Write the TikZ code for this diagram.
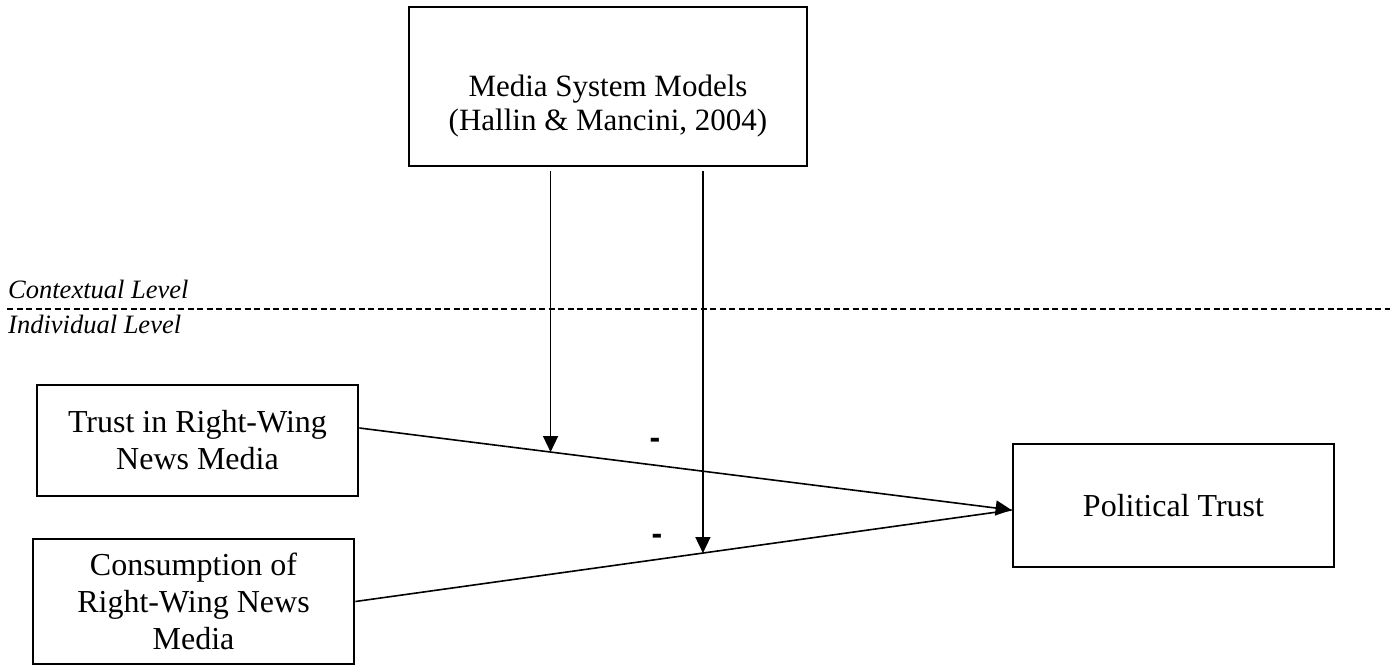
\documentclass[tikz,border=0pt]{standalone}
\usepackage{fontspec}
\setmainfont{Liberation Serif}
\newfontfamily\minusfont{Liberation Sans}
\usetikzlibrary{arrows.meta,calc}
\tikzset{
  box/.style={draw, line width=2.8pt, inner sep=0pt, align=center, font=\fontsize{32}{37}\selectfont},
  conn/.style={line width=1.6pt},
  arr/.style={conn, -{Triangle[length=16pt,width=15pt]}},
  lvl/.style={anchor=base west, inner sep=0pt, font=\fontsize{26.5}{30}\selectfont\itshape},
  minuslbl/.style={inner sep=0pt, font=\minusfont\bfseries\fontsize{32}{36}\selectfont},
  txt/.style={inner sep=0pt, align=center, font=\fontsize{31}{34}\selectfont}
}
\begin{document}
\begin{tikzpicture}[x=1pt,y=-1pt]
\useasboundingbox (0,0) rectangle (1390,665);
% boxes
\node[box, minimum width=398pt, minimum height=159pt] (top) at (608,86.5) {};
\node[txt] (toptext) at (608,106) {Media System Models\\(Hallin \& Mancini, 2004)};
\node[box, minimum width=321pt, minimum height=111pt] (b1) at (197.5,440.5) {Trust in Right-Wing\\News Media};
\node[box, minimum width=321pt, minimum height=125pt] (b2) at (193.5,601.5) {Consumption of\\Right-Wing News\\Media};
\node[box, minimum width=321pt, minimum height=123pt] (pt) at (1173.5,505.5) {Political Trust};
% level divider
\node[lvl] (ctx) at (8,298) {Contextual Level};
\node[lvl] (ind) at (8,333) {Individual Level};
\coordinate (dl) at (7,309);
\coordinate (dr) at (1390,309);
\draw[line width=1.3pt, dash pattern=on 6pt off 3.5pt] (dl) -- (dr);
% paths to outcome
\coordinate (s1) at ($(b1.east)+(0,-12.5)$);
\coordinate (s2) at (b2.east);
\coordinate (e) at ($(pt.west)+(0,4.5)$);
\draw[arr] (s1) -- (e);
\draw[conn] (s2) -- (e);
% moderation arrows
\coordinate (m1) at ($(s1)!0.2931!(e)$);
\coordinate (m2) at ($(s2)!0.5296!(e)$);
\coordinate (a1) at ($(m1 |- top.south)+(0,4)$);
\coordinate (a2) at ($(m2 |- top.south)+(0,4)$);
\draw[arr] (a1) -- (m1);
\draw[arr] (a2) -- (m2);
% signs
\node[minuslbl] (n1) at (655,443) {-};
\node[minuslbl] (n2) at (657,539) {-};
\end{tikzpicture}
\end{document}
